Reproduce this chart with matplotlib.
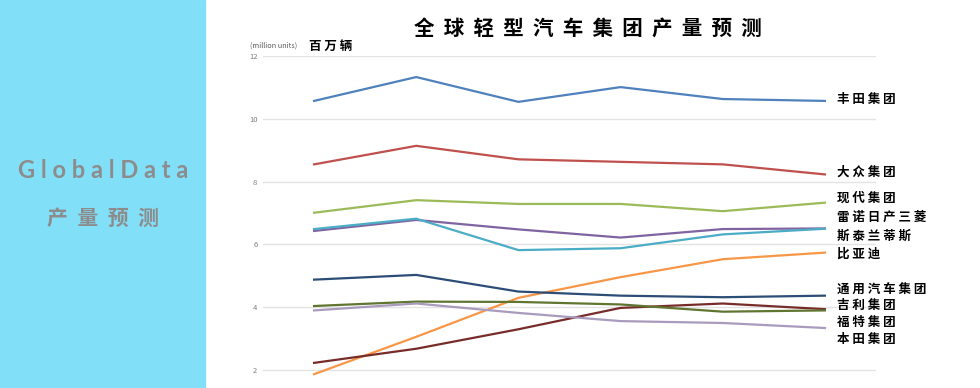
import matplotlib
matplotlib.use("Agg")
import matplotlib.pyplot as plt
from matplotlib.patches import Rectangle

plt.rcParams['font.family'] = ['Noto Sans CJK SC', 'DejaVu Sans']

years = ["2021", "2022", "2023", "2024", "2025", "2026"]
groups = ["丰田集团", "大众集团", "现代集团", "雷诺日产三菱", "斯泰兰蒂斯",
          "比亚迪", "通用汽车集团", "吉利集团", "福特集团", "本田集团"]

toyota     = [10.57, 11.33, 10.54, 11.01, 10.63, 10.57]
vw         = [8.55, 9.14, 8.71, 8.63, 8.55, 8.23]
hyundai    = [7.01, 7.41, 7.29, 7.29, 7.06, 7.33]
renault    = [6.43, 6.78, 6.48, 6.22, 6.49, 6.51]
stellantis = [6.49, 6.82, 5.82, 5.88, 6.32, 6.50]
byd        = [1.87, 3.06, 4.30, 4.96, 5.53, 5.74]
gm         = [4.88, 5.03, 4.50, 4.37, 4.32, 4.37]
geely      = [2.23, 2.68, 3.30, 3.98, 4.12, 3.94]
ford       = [4.04, 4.18, 4.17, 4.09, 3.86, 3.90]
honda      = [3.90, 4.12, 3.82, 3.56, 3.50, 3.34]

series = [toyota, vw, hyundai, renault, stellantis, byd, gm, geely, ford, honda]
colors = ["#4F81BD", "#C0504D", "#9BBB59", "#8064A2", "#4BACC6",
          "#F79646", "#2C4D75", "#772C2A", "#5F7530", "#A99BBD"]
# label heights (data units) - labels are spread out so they don't overlap
label_y = [10.63, 8.31, 7.48, 6.87, 6.27, 5.69, 4.55, 4.07, 3.50, 2.99]

fig = plt.figure(figsize=(9.8, 3.88), dpi=100)

# left blue panel
fig.patches.append(Rectangle((0, 0), 205/980, 1, transform=fig.transFigure,
                             color="#82DFF8", zorder=0))
fig.text(103/980, 1-170/388, "G l o b a l D a t a", ha="center", va="center",
         fontsize=17, fontweight="bold", color="#8C8C8C", family="Lato")
fig.text(103/980, 1-218/388, "  ".join("产量预测"), ha="center", va="center",
         fontsize=15, fontweight="bold", color="#8C8C8C")

ax = fig.add_axes([263/980, 0, 613/980, 332/388])
x = range(len(years))
for vals, c in zip(series, colors):
    ax.plot(x, vals, color=c, linewidth=1.6)

ax.set_xlim(-0.5, 5.5)
ax.set_ylim(1.43, 12)
ax.set_yticks([2, 4, 6, 8, 10, 12])
ax.set_xticks([])
ax.grid(axis="y", color="#E3E3E3", linewidth=1)
ax.set_axisbelow(True)
for s in ax.spines.values():
    s.set_visible(False)
ax.tick_params(axis="y", length=0, labelsize=5.5, labelcolor="#7F7F7F", pad=4)

for name, ly in zip(groups, label_y):
    ax.text(5.117, ly, " ".join(name), ha="left", va="center", fontsize=9,
            fontweight="bold", color="black", clip_on=False)

fig.text(588/980, 1-29/388, "  ".join("全球轻型汽车集团产量预测"), ha="center",
         va="center", fontsize=14.8, fontweight="bold", color="black")
fig.text(250/980, 1-46/388, "(million units)", ha="left", va="center",
         fontsize=5.3, color="#595959")
fig.text(309/980, 1-46/388, " ".join("百万辆"), ha="left", va="center",
         fontsize=9, fontweight="bold", color="black")

fig.savefig("out.png", dpi=100)
